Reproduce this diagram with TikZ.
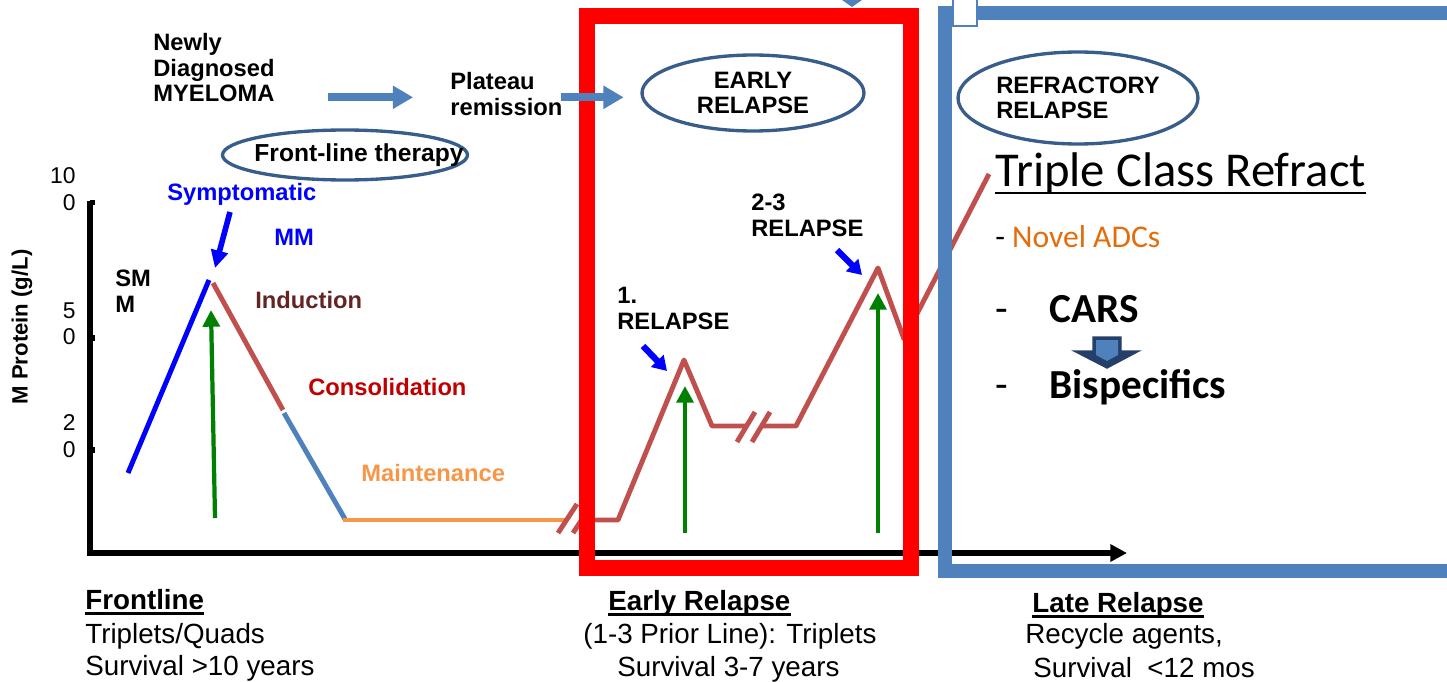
\documentclass[tikz,border=0pt]{standalone}
\usepackage{fontspec}
\setmainfont{Liberation Sans}
\newfontfamily\calfont{Carlito}
\usetikzlibrary{arrows.meta,shapes.geometric}

\definecolor{boxblue}{HTML}{4F81BD}
\definecolor{ovalblue}{HTML}{385D8A}
\definecolor{curvered}{HTML}{C0504D}
\definecolor{maintorange}{HTML}{F79646}
\definecolor{adcorange}{HTML}{E46C0A}
\definecolor{indbrown}{HTML}{632523}
\definecolor{consred}{HTML}{C00000}
\definecolor{arrgreen}{HTML}{008000}
\definecolor{navy}{HTML}{24406A}

\tikzset{
    lbl/.style={font=\fontsize{13.5}{14.5}\selectfont\bfseries, inner sep=0pt, align=left},
    ticklbl/.style={font=\fontsize{13}{15.3}\selectfont, inner sep=0pt, align=right, anchor=north east},
    botlbl/.style={font=\fontsize{15.8}{18}\selectfont, inner sep=0pt, anchor=base west},
    botbold/.style={botlbl, font=\fontsize{15.8}{18}\selectfont\bfseries},
    calbl/.style={inner sep=0pt, anchor=base west},
    oval/.style={ellipse, draw=ovalblue, line width=1.9pt, inner sep=0pt},
    trace/.style={line width=2.8pt, line join=round},
    upgreen/.style={draw=arrgreen, line width=2.4pt, -{Triangle[length=9.5pt,width=9.5pt]}},
    pointer/.style={draw=blue, -{Triangle[length=10pt,width=9.5pt]}},
    flow/.style={draw=boxblue, line width=4.5pt, -{Triangle[length=11.5pt,width=12.5pt]}}
}

\begin{document}
\begin{tikzpicture}[x=0.02cm, y=-0.02cm]
        \useasboundingbox (0,0) rectangle (1447,682);
        \clip (0,0) rectangle (1447,682);
    % axes
        \draw[line width=3.3pt, -{Triangle[length=9.5pt,width=9.5pt]}] (90,201) -- (90,553) -- (1127,553);
        \draw[line width=3.3pt] (90,202.5) -- (95,202.5);
        \draw[line width=3.3pt] (90,338) -- (95,338);
        \draw[line width=3.3pt] (90,450) -- (95,450);
    % tick labels
        \node[ticklbl] (t100) at (76,167) {10\\0};
        \node[ticklbl] (t50) at (76,302) {5\\0};
        \node[ticklbl] (t20) at (76,414) {2\\0};
        \node[font=\fontsize{12.6}{14}\selectfont\bfseries, rotate=90, inner sep=0pt] (ylab) at (22,327) {M Protein (g/L)};
    % course of the disease
        \draw[trace, blue] (128,473) -- (209,280);
        \draw[trace, curvered] (213,283) -- (283,410);
        \draw[trace, boxblue] (284,413) -- (345,519);
        \draw[trace, maintorange] (343,520) -- (567,520);
        \draw[trace, curvered] (558,533) -- (577,504);
        \draw[trace, curvered] (573,533) -- (592,504);
        \draw[trace, curvered] (588,520) -- (618,520) -- (684,360) -- (712,426) -- (747,426);
        \draw[trace, curvered] (737,442) -- (755,412);
        \draw[trace, curvered] (752,442) -- (770,412);
        \draw[trace, curvered] (762,426) -- (796,426) -- (878,268) -- (904,339) -- (989,174);
    % treatment arrows
        \draw[upgreen] (215,518) -- (211,310);
        \draw[upgreen] (685,533) -- (685,386);
        \draw[upgreen] (878,533) -- (878,293);
    % pointers
        \draw[pointer, line width=3.2pt] (230,212) -- (215,268);
        \draw[pointer, line width=3.6pt, -{Triangle[length=8pt,width=9.5pt]}] (643,346) -- (667,371);
        \draw[pointer, line width=3.6pt, -{Triangle[length=8pt,width=9.5pt]}] (837,250) -- (862,275);
    % frames
        \draw[red, line width=9pt] (587,16) rectangle (911,568);
        \draw[boxblue, line width=8.5pt] (945,13) rectangle (1455,571);
        \draw[boxblue, fill=white, line width=1.5pt] (953,-8) rectangle (977,26);
        \fill[boxblue] (842,0) -- (862,0) -- (852,7) -- cycle;
    % top row
        \node[lbl, anchor=north west] (newly) at (153,33) {Newly\\Diagnosed\\MYELOMA};
        \node[lbl, anchor=north west] (plateau) at (450,72) {Plateau\\remission};
        \node[oval, lbl, align=center, minimum width=4.44cm, minimum height=1.52cm] (earlyoval) at (753,93) {EARLY\\RELAPSE};
        \node[oval, lbl, minimum width=4.8cm, minimum height=1.84cm] (refroval) at (1078,98) {REFRACTORY\\RELAPSE};
        \node[oval, minimum width=4.9cm, minimum height=1cm] (frontoval) at (345,155) {};
        \node[lbl, font=\fontsize{14}{15}\selectfont\bfseries] (front) at (359,155) {Front-line therapy};
        \draw[flow] ([xshift=30pt,yshift=-2pt]newly.east |- plateau.west) -- ([xshift=-21pt,yshift=-2pt]plateau.west);
        \draw[flow] ([xshift=-1pt,yshift=-2pt]plateau.east) -- ([xshift=-9.5pt,yshift=-2pt]earlyoval.west |- plateau.west);
    % chart labels
        \node[lbl, blue, anchor=base west] (symp) at (167,201) {Symptomatic};
        \node[lbl, blue, anchor=base west] (mm) at (274,246) {MM};
        \node[lbl, anchor=north west] (smm) at (115,270) {SM\\M};
        \node[lbl, indbrown, anchor=base west] (induct) at (255,308) {Induction};
        \node[lbl, consred, anchor=base west] (consol) at (308,395) {Consolidation};
        \node[lbl, maintorange, anchor=base west] (maint) at (361,481) {Maintenance};
        \node[lbl, anchor=north west] (rel1) at (617,287) {1.\\RELAPSE};
        \node[lbl, anchor=north west] (rel23) at (751,194) {2-3\\RELAPSE};
    % refractory panel
        \node[calbl, font=\calfont\fontsize{27.7}{30}\selectfont] (tcr) at (995,187) {Triple Class Refract};
        \draw[line width=1.5pt] ([yshift=-3.4pt]tcr.base west) -- ([yshift=-3.4pt]tcr.base east);
        \node[calbl, font=\calfont\fontsize{18}{20}\selectfont] (adc) at (995,248) {- \textcolor{adcorange}{Novel ADCs}};
        \node[calbl, font=\calfont\fontsize{23.5}{26}\selectfont] (cars) at (995,322) {-\hspace{23.5pt}\textbf{CARS}};
        \node[calbl, font=\calfont\fontsize{23.5}{26}\selectfont] (bisp) at (995,398) {-\hspace{23.5pt}\textbf{Bispecifics}};
        \filldraw[fill=navy, draw=navy, line width=0.8pt] (1093,337) -- (1121,337) -- (1121,351) -- (1139,351) -- (1107,368) -- (1074,351) -- (1093,351) -- cycle;
        \fill[boxblue] (1096,340) -- (1118,340) -- (1118,355) -- (1107,361) -- (1096,355) -- cycle;
    % bottom texts
        \node[botbold] (frontl) at (85,609) {Frontline};
        \draw[line width=1.6pt] ([yshift=-2.6pt]frontl.base west) -- ([yshift=-2.6pt]frontl.base east);
        \node[botlbl] (trip) at (85,643) {Triplets/Quads};
        \node[botlbl] (surv1) at (85,675) {Survival >10 years};
        \node[botbold] (earlyrel) at (608,610) {Early Relapse};
        \draw[line width=1.6pt] ([yshift=-2.6pt]earlyrel.base west) -- ([yshift=-2.6pt]earlyrel.base east);
        \node[botlbl] (prior) at (583,643) {(1-3 Prior Line): Triplets};
        \node[botlbl] (surv2) at (617,676) {Survival 3-7 years};
        \node[botbold] (laterel) at (1032,612) {Late Relapse};
        \draw[line width=1.6pt] ([yshift=-2.6pt]laterel.base west) -- ([yshift=-2.6pt]laterel.base east);
        \node[botlbl] (recyc) at (1025,643) {Recycle agents,};
        \node[botlbl] (surv3) at (1033,677) {Survival\ \ <12 mos};
\end{tikzpicture}
\end{document}
